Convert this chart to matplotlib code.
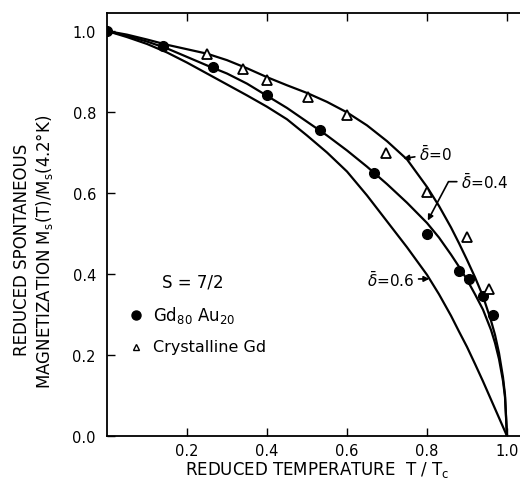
import matplotlib.pyplot as plt

# curves (reduced T, reduced M)
t_d0 = [0.0, 0.05, 0.1, 0.15, 0.2, 0.25, 0.3, 0.35, 0.4, 0.45, 0.5, 0.55, 0.6, 0.65, 0.7,
        0.75, 0.8, 0.83, 0.86, 0.88, 0.9, 0.92, 0.94, 0.96, 0.97, 0.98, 0.99, 0.995, 1.0]
m_d0 = [1.0, 0.991, 0.979, 0.966, 0.955, 0.944, 0.928, 0.908, 0.886, 0.866, 0.847, 0.825, 0.799, 0.767, 0.728,
        0.683, 0.615, 0.568, 0.515, 0.476, 0.435, 0.392, 0.345, 0.285, 0.250, 0.205, 0.145, 0.102, 0.0]

t_d4 = [0.0, 0.05, 0.1, 0.15, 0.2, 0.25, 0.3, 0.35, 0.4, 0.45, 0.5, 0.55, 0.6, 0.65, 0.7,
        0.75, 0.8, 0.83, 0.86, 0.88, 0.9, 0.92, 0.94, 0.96, 0.97, 0.98, 0.99, 0.995, 1.0]
m_d4 = [1.0, 0.988, 0.974, 0.957, 0.936, 0.915, 0.895, 0.870, 0.840, 0.810, 0.776, 0.742, 0.705, 0.665, 0.622,
        0.576, 0.526, 0.490, 0.448, 0.418, 0.386, 0.350, 0.312, 0.262, 0.230, 0.190, 0.136, 0.096, 0.0]

t_d6 = [0.0, 0.05, 0.1, 0.15, 0.2, 0.25, 0.3, 0.35, 0.4, 0.45, 0.5, 0.55, 0.6, 0.65, 0.7,
        0.75, 0.8, 0.83, 0.86, 0.88, 0.9, 0.92, 0.94, 0.96, 0.98, 1.0]
m_d6 = [1.0, 0.985, 0.968, 0.947, 0.922, 0.895, 0.868, 0.841, 0.813, 0.782, 0.742, 0.700, 0.653, 0.594, 0.530,
        0.466, 0.398, 0.350, 0.297, 0.258, 0.220, 0.178, 0.135, 0.090, 0.045, 0.0]

# measured points
t_gdau = [0.0, 0.14, 0.265, 0.40, 0.532, 0.667, 0.80, 0.88, 0.905, 0.94, 0.965]
m_gdau = [1.0, 0.963, 0.911, 0.842, 0.756, 0.649, 0.50, 0.407, 0.387, 0.345, 0.30]

t_gd = [0.25, 0.34, 0.40, 0.5025, 0.599, 0.697, 0.80, 0.90, 0.956]
m_gd = [0.943, 0.906, 0.879, 0.837, 0.793, 0.699, 0.602, 0.492, 0.363]

xticks = [0.2, 0.4, 0.6, 0.8, 1.0]
yticks = [0.0, 0.2, 0.4, 0.6, 0.8, 1.0]

fig = plt.figure(figsize=(5.2, 4.85), dpi=100)
ax = fig.add_axes([107 / 520, 48 / 485, 1 - 107 / 520, (437 - 14) / 485])

for t, m in [(t_d0, m_d0), (t_d4, m_d4), (t_d6, m_d6)]:
    ax.plot(t, m, color='black', lw=1.6, solid_joinstyle='round', solid_capstyle='round')

ax.plot(t_gdau, m_gdau, 'o', color='black', ms=7, ls='none')
ax.plot(t_gd, m_gd, '^', mfc='white', mec='black', mew=1.3, ms=7, ls='none')

ax.set_xlim(0, 413 / 400)
ax.set_ylim(0, 423 / 405)
ax.spines['right'].set_visible(False)
for s in ['left', 'top', 'bottom']:
    ax.spines[s].set_linewidth(1.3)

ax.set_xticks(xticks)
ax.set_xticklabels([f'{v:.1f}' for v in xticks])
ax.set_yticks(yticks)
ax.set_yticklabels([f'{v:.1f}' for v in yticks])
ax.tick_params(direction='in', length=6, width=1, labelsize=10.5, top=True, pad=5)
ax.tick_params(axis='y', pad=8)

fig.text(317 / 520, 1 - 470 / 485, r'REDUCED TEMPERATURE  T / T$_\mathrm{c}$',
         fontsize=12, ha='center', va='center')
fig.text(22 / 520, 1 - 250 / 485, 'REDUCED SPONTANEOUS', fontsize=12,
         rotation=90, ha='center', va='center')
fig.text(45 / 520, 1 - 252 / 485, r'MAGNETIZATION M$_\mathrm{s}$(T)/M$_\mathrm{s}$(4.2°K)',
         fontsize=12, rotation=90, ha='center', va='center')

# curve labels with arrows
arr = dict(arrowstyle='-|>', color='black', lw=1.2, mutation_scale=8, shrinkA=1, shrinkB=0)
ax.annotate(r'$\bar{\delta}$=0', xy=(0.741, 0.685), xytext=(0.78, 0.697),
            fontsize=11, va='center', arrowprops=arr)
ax.annotate(r'$\bar{\delta}$=0.4', xy=(0.802, 0.532), xytext=(0.885, 0.628),
            fontsize=11, va='center',
            arrowprops=dict(arrowstyle='-|>', color='black', lw=1.2, mutation_scale=8,
                            shrinkA=1, shrinkB=0,
                            connectionstyle='angle,angleA=0,angleB=62,rad=0'))
ax.annotate(r'$\bar{\delta}$=0.6', xy=(0.806, 0.388), xytext=(0.65, 0.387),
            fontsize=11, va='center', arrowprops=arr)

ax.text(0.138, 0.382, 'S = 7/2', fontsize=12, va='center')
ax.plot([0.072], [0.30], 'o', color='black', ms=6.5)
ax.text(0.115, 0.30, r'Gd$_{80}$ Au$_{20}$', fontsize=12, va='center')
ax.plot([0.072], [0.22], '^', mfc='white', mec='black', mew=1.0, ms=5)
ax.text(0.115, 0.22, 'Crystalline Gd', fontsize=11.5, va='center')

fig.savefig('out.png', dpi=100)
